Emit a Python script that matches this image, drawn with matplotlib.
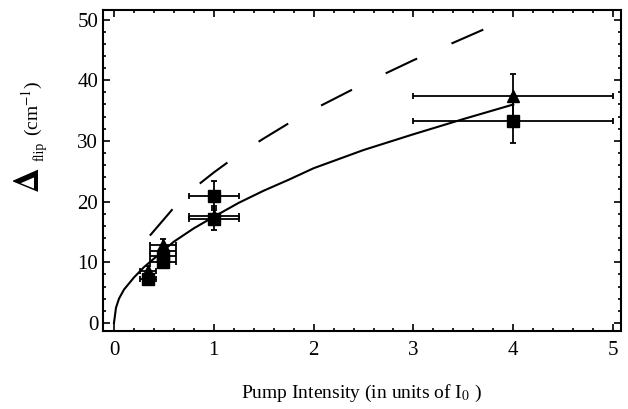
import matplotlib
matplotlib.use('Agg')
import matplotlib.pyplot as plt
from matplotlib.ticker import MultipleLocator

plt.rcParams['font.family'] = ['Liberation Serif', 'DejaVu Serif']
plt.rcParams['mathtext.fontset'] = 'stix'

# solid curve
fit_x = [0, 0.02, 0.05, 0.1, 0.2, 0.3, 0.4, 0.6, 0.8, 1.0, 1.25, 1.5, 1.75, 2.0, 2.5, 3.0, 3.5, 4.0]
fit_y = [0, 2.5, 4.0, 5.5, 7.5, 9.2, 10.6, 13.4, 15.6, 17.5, 19.8, 21.8, 23.6, 25.5, 28.5, 31.1, 33.6, 36.0]

# dashed curve
dash_x = [0.36, 0.6, 0.8, 1.0, 1.25, 1.5, 1.75, 2.0, 2.5, 3.0, 3.5, 3.75]
dash_y = [14.4, 19.0, 22.2, 24.8, 27.8, 30.4, 32.9, 35.2, 39.4, 43.3, 46.9, 48.7]

# measured points
tri_x = [0.34, 0.49, 0.49, 1.0, 4.0]
tri_y = [8.6, 12.8, 11.9, 17.7, 37.4]
tri_xerr = [0.08, 0.13, 0.13, 0.25, 1.0]
tri_yerr = [0.8, 1.0, 1.0, 1.6, 3.6]

sq_x = [0.34, 0.49, 0.49, 1.0, 1.0, 4.0]
sq_y = [7.3, 11.0, 10.1, 21.0, 17.2, 33.3]
sq_xerr = [0.08, 0.13, 0.13, 0.25, 0.25, 1.0]
sq_yerr = [0.8, 1.0, 1.0, 2.4, 1.8, 3.6]

fig = plt.figure(figsize=(6.28, 4.09), dpi=100)
ax = fig.add_axes([0.164, 0.191, 0.825, 0.785])

ax.plot(fit_x, fit_y, '-', color='k', lw=1.5)
lw = 1.5
ax.plot(dash_x, dash_y, color='k', lw=lw, linestyle=(0, (25 / lw, 27 / lw)))

ax.errorbar(tri_x, tri_y, xerr=tri_xerr, yerr=tri_yerr, fmt='^', color='k',
            ms=8, elinewidth=1.3, capsize=2.5, capthick=1.3)
ax.errorbar(sq_x, sq_y, xerr=sq_xerr, yerr=sq_yerr, fmt='s', color='k',
            ms=8, elinewidth=1.3, capsize=2.5, capthick=1.3)

ax.set_xlim(-0.11, 5.08)
ax.set_ylim(-1.3, 51.6)
ax.xaxis.set_major_locator(MultipleLocator(1))
ax.xaxis.set_minor_locator(MultipleLocator(0.2))
ax.yaxis.set_major_locator(MultipleLocator(10))
ax.yaxis.set_minor_locator(MultipleLocator(2))
ax.tick_params(which='both', direction='in', top=True, right=True, width=1.2)
ax.tick_params(which='major', length=5, labelsize=15)
ax.tick_params(axis='x', which='major', pad=7)
ax.tick_params(which='minor', length=2.5)
for s in ax.spines.values():
    s.set_linewidth(1.5)

ax.set_xlabel(r'Pump Intensity (in units of I$_0$ )', fontsize=14, labelpad=17)

# y label in pieces: big delta, subscript, unit
fig.text(0.048, 0.56, r'$\mathbf{\Delta}$', fontsize=25, rotation=90, ha='center', va='center')
fig.text(0.063, 0.630, 'flip', fontsize=10, rotation=90, ha='center', va='center')
fig.text(0.052, 0.735, r'(cm$^{-1}$)', fontsize=14, rotation=90, ha='center', va='center')

fig.savefig('out.png', dpi=100)
